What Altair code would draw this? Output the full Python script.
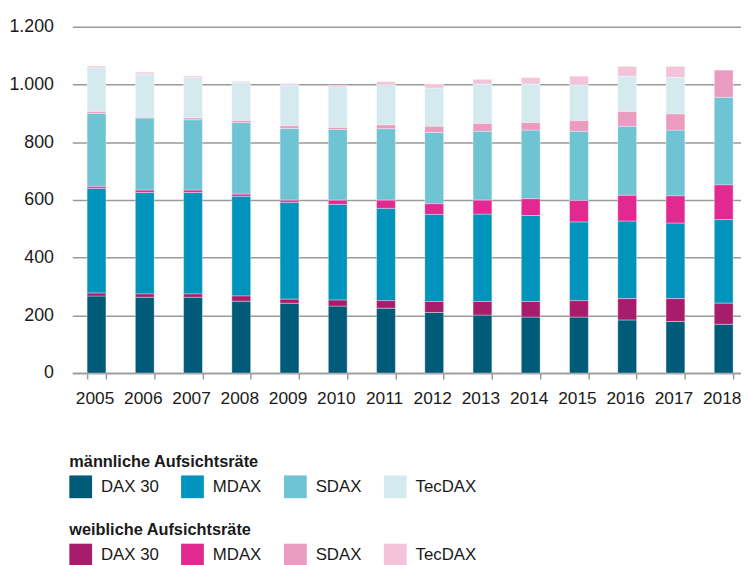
import altair as alt
import pandas as pd

years = ["2005", "2006", "2007", "2008", "2009", "2010", "2011", "2012", "2013", "2014", "2015", "2016", "2017", "2018"]
indices = ["DAX 30", "MDAX", "SDAX", "TecDAX"]

dax_m = [267, 263, 263, 249, 242, 232, 225, 210, 201, 194, 194, 184, 179, 169]
dax_f = [10, 11, 11, 18, 14, 21, 26, 38, 47, 54, 57, 74, 79, 73]
mdax_m = [363, 352, 352, 346, 336, 332, 320, 302, 303, 298, 273, 269, 262, 290]
mdax_f = [6, 8, 8, 7, 7, 14, 28, 37, 48, 58, 74, 89, 94, 120]
sdax_m = [254, 250, 244, 248, 249, 245, 248, 247, 239, 238, 240, 239, 228, 304]
sdax_f = [6, 2, 6, 7, 9, 7, 13, 21, 27, 26, 37, 51, 56, 94]
tec_m = [152, 151, 140, 133, 142, 141, 140, 133, 137, 134, 124, 123, 127, 0]
tec_f = [6, 6, 5, 3, 4, 6, 10, 14, 16, 22, 30, 34, 38, 0]

male_colors = ["#005b78", "#0093bb", "#6ec4d2", "#d4eaee"]
female_colors = ["#a81d6b", "#e2298f", "#ea9bc0", "#f2c3d9"]

series = [
    ("DAX 30", "m", dax_m), ("DAX 30", "f", dax_f),
    ("MDAX", "m", mdax_m), ("MDAX", "f", mdax_f),
    ("SDAX", "m", sdax_m), ("SDAX", "f", sdax_f),
    ("TecDAX", "m", tec_m), ("TecDAX", "f", tec_f),
]

rows = []
for i, y in enumerate(years):
    base = 0
    for idx, g, vals in series:
        v = vals[i]
        if v > 0:
            rows.append({"year": y, "index": idx, "gender": g, "start": base, "end": base + v})
        base += v
df = pd.DataFrame(rows)

FONT = "Liberation Sans, Arial, sans-serif"
TXT = "#1a1a1a"

x_enc = alt.X(
    "year:N", sort=years, title=None,
    scale=alt.Scale(paddingInner=0.61, paddingOuter=0.2355, align=0.652, round=False),
    axis=alt.Axis(labelAngle=0, tickBand="extent", ticks=True, tickSize=6, tickColor="#9a9a9a",
                  tickWidth=1.5, domain=True, domainColor="#9a9a9a", domainWidth=1.5,
                  labelPadding=11, labelOffset=-2, grid=False, labelFontSize=17.5,
                  labelFont=FONT, labelColor=TXT),
)
y_enc = alt.Y(
    "start:Q", title=None,
    scale=alt.Scale(domain=[0, 1200], nice=False),
    axis=alt.Axis(values=[0, 200, 400, 600, 800, 1000, 1200], grid=True, gridColor="#9a9a9a",
                  gridWidth=1.5, domain=False, ticks=False, tickSize=0, labelPadding=19,
                  labelFontSize=18, labelFont=FONT, labelColor=TXT,
                  labelExpr="replace(format(datum.value, ','), ',', '.')"),
)

def legend(title, ly):
    return alt.Legend(
        title=title, orient="none", legendX=-3, legendY=ly, direction="horizontal", columns=4,
        symbolType="square", symbolSize=529, symbolStrokeWidth=0, symbolOpacity=1,
        labelFontSize=17, labelFont=FONT, labelColor=TXT, labelOffset=9,
        columnPadding=22, titleFontSize=16.5, titleFont=FONT, titleFontWeight="bold",
        titleColor=TXT, titlePadding=5, titleLimit=400, titleAnchor="start",
    )

male = alt.Chart(df).transform_filter(alt.datum.gender == "m").mark_bar(
    stroke="white", strokeWidth=0.5, strokeOpacity=0.7
).encode(
    x=x_enc, y=y_enc, y2="end:Q",
    color=alt.Color("index:N", sort=indices,
                    scale=alt.Scale(domain=indices, range=male_colors),
                    legend=legend("männliche Aufsichtsräte", 432)),
)

female = alt.Chart(df).transform_filter(alt.datum.gender == "f").mark_bar(
    stroke="white", strokeWidth=0.5, strokeOpacity=0.7
).encode(
    x=x_enc, y=y_enc, y2="end:Q",
    color=alt.Color("index:N", sort=indices,
                    scale=alt.Scale(domain=indices, range=female_colors),
                    legend=legend("weibliche Aufsichtsräte", 501)),
)

chart = alt.layer(male, female).resolve_scale(color="independent").properties(
    width=676, height=350,
    autosize=alt.AutoSizeParams(type="none"),
    padding={"left": 65, "top": 16, "right": 0, "bottom": 191},
).configure_view(stroke=None)

chart.save("out.html", embed_options={"renderer": "svg", "actions": False})
